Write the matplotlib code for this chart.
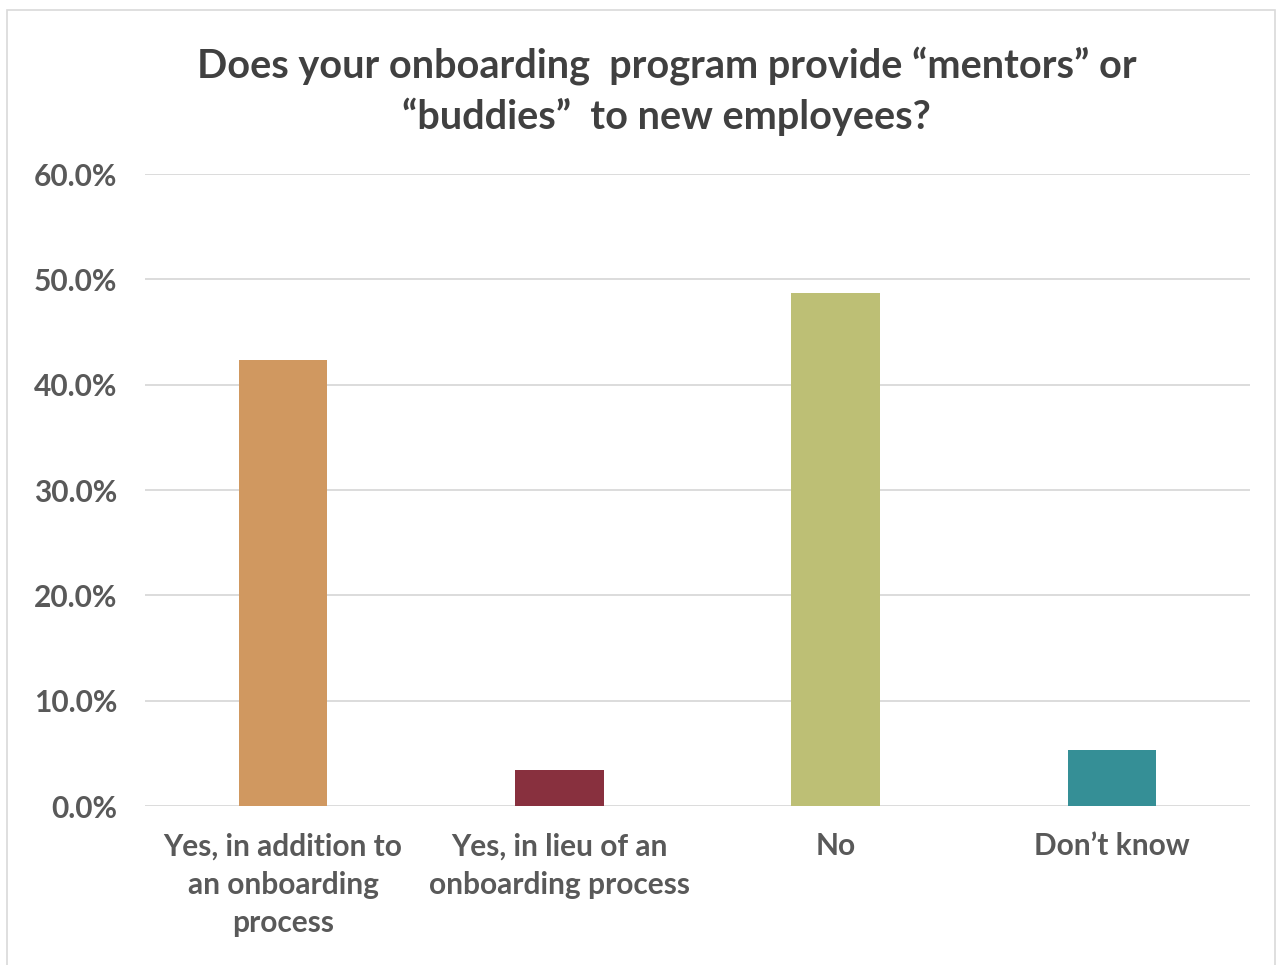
import matplotlib
matplotlib.use("Agg")
import matplotlib.pyplot as plt
from matplotlib.ticker import FuncFormatter
from matplotlib.patches import Rectangle

categories = ["Yes, in addition to\nan onboarding\nprocess",
              "Yes, in lieu of an\nonboarding process",
              "No",
              "Don\u2019t know"]
values = [42.3, 3.4, 48.7, 5.3]
colors = ["#D09860", "#88303E", "#BDBF75", "#358F96"]
yticks = [0, 10, 20, 30, 40, 50, 60]
title = "Does your onboarding  program provide \u201cmentors\u201d or\n\u201cbuddies\u201d  to new employees?"

plt.rcParams["font.family"] = ["Lato", "DejaVu Sans"]

fig = plt.figure(figsize=(12.79, 9.65), dpi=100)
fig.patch.set_facecolor("white")
fig.patches.append(Rectangle((7 / 1279, -0.01), 1268 / 1279, 1 - 10 / 965 + 0.01,
                             transform=fig.transFigure, fill=False,
                             edgecolor="#D9D9D9", linewidth=1.2))

ax = fig.add_axes([145 / 1279, 1 - 806 / 965, 1105 / 1279, 632 / 965])
x = range(len(categories))
ax.bar(x, values, width=0.32, color=colors, zorder=3)

ax.set_xlim(-0.5, len(categories) - 0.5)
ax.set_ylim(0, 60)
ax.set_yticks(yticks)
ax.yaxis.set_major_formatter(FuncFormatter(lambda v, p: f"{v:.1f}%"))
ax.set_xticks(list(x))
ax.set_xticklabels(categories, linespacing=1.45)

for s in ax.spines.values():
    s.set_visible(False)
ax.grid(axis="y", color="#D9D9D9", linewidth=1.3, zorder=0)
ax.tick_params(axis="both", length=0, labelsize=21.5, labelcolor="#595959")
ax.tick_params(axis="y", pad=20)
ax.tick_params(axis="x", pad=19)
for lbl in ax.get_xticklabels() + ax.get_yticklabels():
    lbl.set_fontweight("bold")

fig.text(0.521, 1 - 91 / 965, title, ha="center", va="center",
         fontsize=28.5, fontweight="bold", color="#404040", linespacing=1.42)

fig.savefig("out.png", dpi=100)
